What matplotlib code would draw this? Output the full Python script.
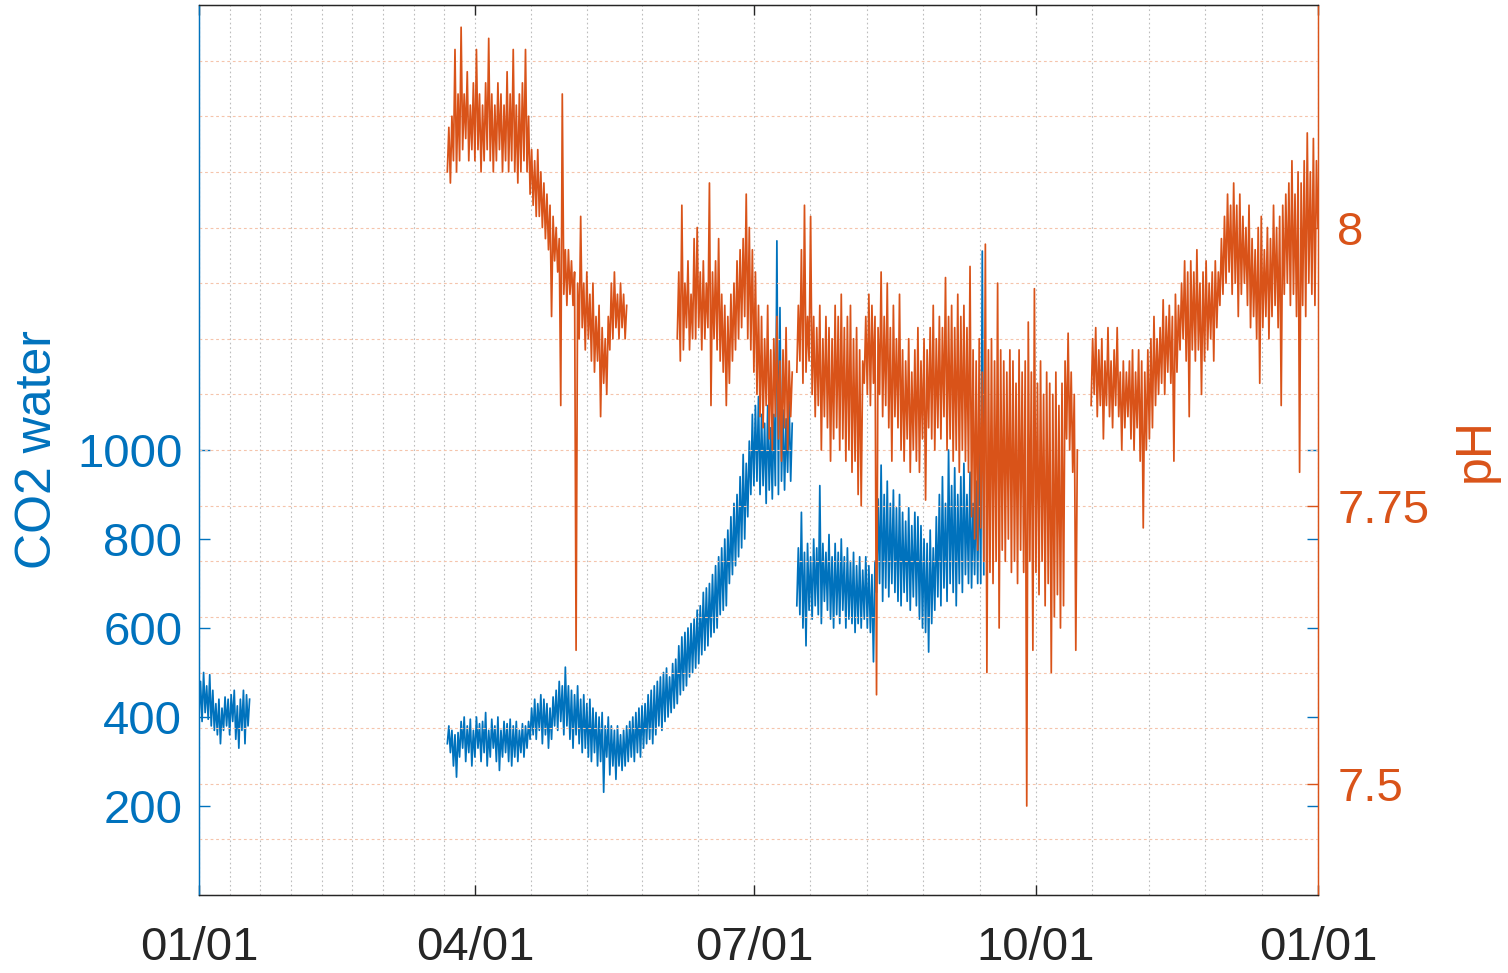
import numpy as np
import pandas as pd
import matplotlib
matplotlib.use('Agg')
import matplotlib.pyplot as plt
import matplotlib.dates as mdates
from matplotlib.ticker import MultipleLocator, FixedLocator

# data: values, one sample every 12 h (day of year of first sample)
year_start = pd.Timestamp('2019-01-01')

co2_a_start = 0
co2_a = [400, 480, 390, 500, 410, 470, 395, 495, 380, 460, 370, 430, 360, 440, 340, 420,
         370, 445, 380, 440, 360, 450, 390, 460, 350, 425, 330, 440, 370, 460, 340, 450, 380, 440]

co2_b_start = 81
co2_b = [340, 380, 320, 370, 290, 360, 265, 365, 310, 390, 330, 400, 300, 380, 320, 395,
         290, 370, 310, 400, 330, 385, 300, 390, 320, 410, 290, 370, 310, 395, 330, 380,
         300, 400, 280, 370, 310, 390, 320, 385, 300, 395, 290, 380, 310, 390, 300, 370,
         320, 385, 310, 380, 330, 390, 350, 420,
         360, 440, 350, 430, 370, 450, 340, 440, 360, 430, 330, 420, 350, 445, 380, 460,
         370, 480, 390, 470, 360, 512, 380, 470, 350, 460, 330, 450, 360, 470, 340, 440,
         320, 450, 330, 430, 310, 440, 300, 420, 320, 410, 290, 400, 300, 410, 231, 380,
         310, 400, 270, 380, 290, 370, 260, 380, 290, 360, 280, 370, 290, 380, 300, 390,
         310, 400, 300, 410, 320, 420, 310, 425, 330, 430, 340, 450, 350, 460, 340, 470,
         360, 480, 380, 490, 370, 500, 390, 510, 400, 490, 410, 520, 420, 530, 430, 560,
         450, 580, 460, 590, 470, 600, 490, 610, 500, 620, 510, 640, 520, 650, 540, 680,
         550, 690, 560, 700, 580, 720, 590, 740, 600, 760, 630, 780, 640, 800, 650, 820,
         700, 850, 720, 880, 740, 900, 760, 940, 780, 990, 800, 970, 850, 1020, 900, 1080,
         920, 1100, 930, 1120, 900, 1080, 920, 1060, 880, 1100, 910, 1050, 890, 1080,
         920, 1470, 900, 1320, 930, 1090, 910, 1070, 950, 1110, 930, 1060]

co2_c_start = 195
co2_c = [650, 780, 630, 860, 600, 770, 560, 790, 640, 760, 620, 800, 650, 780, 630, 920,
         610, 790, 660, 770, 640, 810, 620, 760, 600, 790, 630, 770, 610, 800, 640, 760,
         600, 780, 620, 750, 610, 770, 590, 740, 610, 760, 600, 730, 620, 760, 600, 740,
         590, 720, 524, 750, 680, 890, 700, 966, 660, 900, 690, 930, 670, 880, 700, 910,
         680, 870, 660, 900, 650, 860, 680, 840, 660, 870, 640, 830, 670, 860, 650, 850,
         620, 830, 600, 800, 590, 790, 546, 820, 610, 780, 640, 850, 670, 900, 650, 940,
         690, 880, 660, 1000, 700, 920, 680, 960, 650, 900, 700, 940, 680, 970, 720, 900,
         700, 950, 690, 880, 720, 930, 700, 1000, 700, 1447, 720]

ph_a_start = 81
ph_a = [8.05, 8.09, 8.04, 8.10, 8.06, 8.16, 8.05, 8.12, 8.06, 8.18, 8.07, 8.12, 8.08, 8.14,
        8.06, 8.11, 8.07, 8.13, 8.06, 8.16, 8.07, 8.12, 8.05, 8.11, 8.06, 8.13, 8.07, 8.17,
        8.06, 8.12, 8.05, 8.11, 8.06, 8.13, 8.07, 8.12, 8.05, 8.11, 8.06, 8.14, 8.05, 8.12,
        8.06, 8.16, 8.05, 8.11, 8.04, 8.12, 8.05, 8.13, 8.06, 8.16, 8.05, 8.10, 8.03, 8.07,
        8.02, 8.06, 8.01, 8.07, 8.01, 8.05, 8.00, 8.04, 7.99, 8.03, 7.98, 8.02, 7.92, 8.01,
        7.97, 8.00, 7.96, 7.99, 7.84, 8.12, 7.94, 7.98, 7.93, 7.98, 7.94, 7.97, 7.93, 7.96,
        7.62, 7.95, 7.90, 8.01, 7.91, 7.95, 7.89, 7.96, 7.90, 7.94, 7.88, 7.95, 7.87, 7.92,
        7.88, 7.93, 7.83, 7.91, 7.86, 7.90, 7.85, 7.92, 7.89, 7.95, 7.90, 7.96, 7.91, 7.94,
        7.90, 7.95, 7.91, 7.94, 7.90, 7.93]

ph_b_start = 156
ph_b = [7.90, 7.96, 7.88, 8.02, 7.89, 7.95, 7.91, 7.97, 7.89, 7.94, 7.90, 7.99, 7.90, 8.00,
        7.91, 7.96, 7.89, 7.97, 7.90, 7.95, 7.91, 8.04, 7.84, 7.96, 7.90, 7.97, 7.89, 7.99,
        7.88, 7.94, 7.87, 7.93, 7.84, 7.92, 7.86, 7.94, 7.88, 7.95, 7.89, 7.97, 7.90, 7.98,
        7.91, 7.99, 7.92, 8.03, 7.90, 8.00, 7.89, 7.98, 7.87, 7.96, 7.85, 7.93, 7.83, 7.92,
        7.82, 7.90, 7.84, 7.93, 7.81, 7.89, 7.80, 7.90, 7.83, 7.92, 7.81, 7.88, 7.79, 7.89,
        7.82, 7.91, 7.80, 7.88, 7.83, 7.87]

ph_c_start = 195
ph_c = [7.87, 7.93, 7.88, 7.98, 7.86, 8.02, 7.87, 7.92, 7.88, 8.01, 7.85, 7.92, 7.83, 7.91,
        7.84, 7.93, 7.80, 7.90, 7.83, 7.92, 7.82, 7.91, 7.79, 7.90, 7.81, 7.93, 7.82, 7.92,
        7.80, 7.94, 7.81, 7.91, 7.79, 7.92, 7.80, 7.93, 7.78, 7.90, 7.79, 7.91, 7.76, 7.89,
        7.75, 7.88, 7.86, 7.92, 7.85, 7.94, 7.84, 7.93, 7.86, 7.92, 7.58, 7.91, 7.85, 7.96,
        7.83, 7.92, 7.84, 7.95, 7.82, 7.91, 7.79, 7.93, 7.83, 7.90, 7.82, 7.94, 7.80, 7.89,
        7.79, 7.88, 7.81, 7.90, 7.78, 7.87, 7.80, 7.89, 7.79, 7.91, 7.78, 7.88, 7.81, 7.90,
        7.755, 7.89, 7.82, 7.91, 7.81, 7.93, 7.80, 7.90, 7.82, 7.92, 7.81, 7.91, 7.83, 7.955,
        7.80, 7.92, 7.81, 7.93, 7.79, 7.91, 7.80, 7.94, 7.78, 7.92, 7.80, 7.93, 7.79, 7.91,
        7.78, 7.965, 7.74, 7.89, 7.72, 7.88, 7.71, 7.90, 7.73, 7.87, 7.70, 7.985, 7.60, 7.89,
        7.69, 7.90, 7.68, 7.88, 7.70, 7.95, 7.64, 7.89, 7.71, 7.88, 7.70, 7.87, 7.72, 7.89,
        7.69, 7.88, 7.70, 7.86, 7.68, 7.89, 7.71, 7.87, 7.69, 7.88, 7.48, 7.915, 7.70, 7.87,
        7.62, 7.945, 7.69, 7.86, 7.67, 7.88, 7.70, 7.85, 7.66, 7.87, 7.68, 7.86, 7.60, 7.85,
        7.65, 7.87, 7.67, 7.84, 7.64, 7.86, 7.66, 7.88, 7.81, 7.905, 7.80, 7.87, 7.78, 7.85,
        7.62, 7.80]

ph_d_start = 291
ph_d = [7.84, 7.90, 7.85, 7.91, 7.83, 7.89, 7.84, 7.90, 7.81, 7.88, 7.84, 7.91, 7.83, 7.88,
        7.82, 7.89, 7.84, 7.91, 7.83, 7.87, 7.80, 7.88, 7.82, 7.87, 7.83, 7.88, 7.81, 7.89,
        7.80, 7.87, 7.82, 7.89, 7.79, 7.88, 7.73, 7.87, 7.80, 7.89, 7.81, 7.90, 7.82, 7.92,
        7.84, 7.90, 7.85, 7.91, 7.86, 7.935, 7.85, 7.92, 7.87, 7.93, 7.86, 7.92, 7.79, 7.94,
        7.87, 7.93, 7.89, 7.95, 7.90, 7.97, 7.88, 7.96, 7.83, 7.97, 7.89, 7.96, 7.88, 7.98,
        7.89, 7.95, 7.85, 7.96, 7.88, 7.97, 7.89, 7.95, 7.90, 7.96, 7.88, 7.97, 7.91, 7.96,
        7.93, 7.99, 7.94, 8.01, 7.95, 8.03, 7.96, 8.02, 7.94, 8.04, 7.95, 8.02, 7.92, 8.03,
        7.94, 8.01, 7.95, 8.00, 7.93, 8.02, 7.91, 7.99, 7.92, 7.98, 7.90, 8.00, 7.86, 8.01,
        7.91, 7.98, 7.92, 8.00, 7.90, 7.99, 7.92, 8.02, 7.93, 8.00, 7.91, 8.01, 7.84, 8.02,
        7.94, 8.03, 7.95, 8.04, 7.93, 8.06, 7.94, 8.03, 7.92, 8.05, 7.78, 8.04, 7.93, 8.06,
        7.92, 8.085, 7.95, 8.05, 7.94, 8.08, 7.93, 8.06, 8.00]

co2_segments = [(co2_a_start, co2_a), (co2_b_start, co2_b), (co2_c_start, co2_c)]
ph_segments = [(ph_a_start, ph_a), (ph_b_start, ph_b), (ph_c_start, ph_c), (ph_d_start, ph_d)]

blue = '#0072BD'
orange = '#D95319'
dark = '#262626'


def to_dates(start, vals):
    days = start + 0.5 * np.arange(len(vals))
    return year_start + pd.to_timedelta(days, unit='D')


plt.rcParams['font.family'] = ['Liberation Sans', 'DejaVu Sans']

fig = plt.figure(figsize=(15.08, 9.73), dpi=100)
ax = fig.add_axes([0.13196, 0.08016, 0.74204, 0.91470])
ax2 = ax.twinx()

for start, vals in co2_segments:
    ax.plot(to_dates(start, vals), vals, color=blue, linewidth=1.25)
for start, vals in ph_segments:
    ax2.plot(to_dates(start, vals), vals, color=orange, linewidth=1.25)

# x axis
ax.set_xlim(year_start, pd.Timestamp('2020-01-01'))
ax.xaxis.set_major_locator(mdates.MonthLocator(bymonth=[1, 4, 7, 10]))
ax.xaxis.set_major_formatter(mdates.DateFormatter('%m/%d'))
minor_days = [10, 20, 30, 40, 50, 60, 70, 80,
              108.2, 126.4, 144.6, 162.8,
              199.4, 217.8, 236.2, 254.6,
              291.4, 309.8, 328.2, 346.6]
minor_dates = year_start + pd.to_timedelta(minor_days, unit='D')
ax.xaxis.set_minor_locator(FixedLocator(mdates.date2num(minor_dates)))
ax.tick_params(axis='x', which='major', direction='in', length=7, width=1.0,
               top=True, color=dark, labelcolor=dark, labelsize=34, pad=22)
ax.tick_params(axis='x', which='minor', length=0, top=True)
ax.grid(True, axis='x', which='both', color='#bdbdbd', linestyle=(0, (1.5, 2.5)),
        linewidth=0.8)

# left axis
ax.set_ylim(0, 2000)
ax.set_yticks([200, 400, 600, 800, 1000])
ax.tick_params(axis='y', direction='in', length=8, width=1.0, left=True, right=True,
               color=blue, labelcolor=blue, labelsize=34, pad=12)
ax.set_ylabel('CO2 water', color=blue, fontsize=36)
ax.yaxis.set_label_coords(-0.123, 0.5)

# right axis
ax2.set_ylim(7.4, 8.2)
ax2.set_yticks([7.5, 7.75, 8])
ax2.set_yticklabels(['7.5', '7.75', '8'])
ax2.yaxis.set_minor_locator(MultipleLocator(0.05))
ax2.tick_params(axis='y', which='major', direction='in', length=8, width=1.0,
                color=orange, labelcolor=orange, labelsize=34, pad=14)
ax2.tick_params(axis='y', which='minor', length=0)
ax2.grid(True, axis='y', which='both', color='#f5c4ab', linestyle=(0, (2.5, 2.5)),
         linewidth=0.8)
ax2.set_ylabel('pH', color=orange, fontsize=36)
ax2.yaxis.set_label_coords(1.12, 0.5)

for a in (ax, ax2):
    a.spines['top'].set_color(dark)
    a.spines['bottom'].set_color(dark)
    a.spines['left'].set_color(blue)
    a.spines['right'].set_color(orange)
    for s in a.spines.values():
        s.set_linewidth(0.9)

fig.savefig('out.png', dpi=100)
